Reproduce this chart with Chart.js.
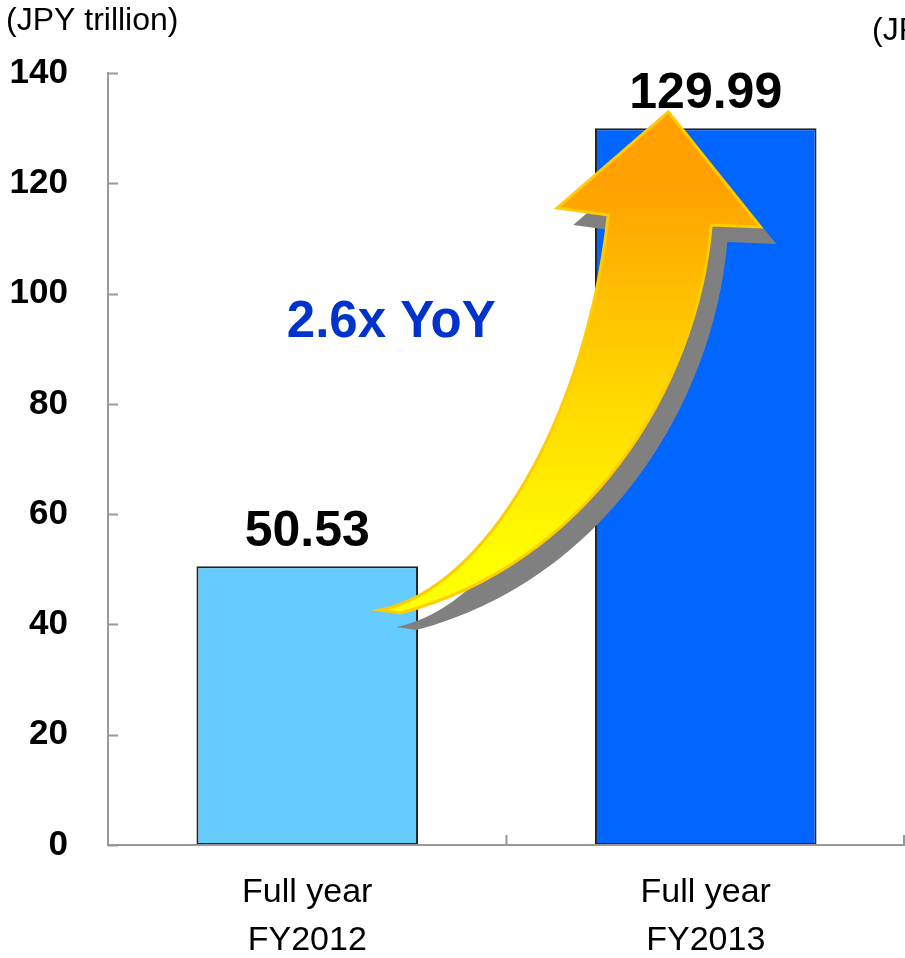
<!DOCTYPE html>
<html>
<head>
<meta charset="utf-8">
<script src="https://cdn.jsdelivr.net/npm/chart.js@4"></script>
<style>
html,body{margin:0;padding:0;background:#fff;}
#wrap{position:relative;width:905px;height:958px;}
canvas{display:block;}
</style>
</head>
<body>
<div id="wrap"><canvas id="c" width="905" height="958"></canvas></div>
<script>
const categories = [['Full year','FY2012'], ['Full year','FY2013']];
const values = [50.53, 129.99];
const valueLabels = ['50.53', '129.99'];
const barColors = ['#66CCFF', '#0066FF'];
const yTicks = [0, 20, 40, 60, 80, 100, 120, 140];
const unitLabel = '(JPY trillion)';
const growthLabel = '2.6x YoY';

const FONT = '"Liberation Sans", Arial, sans-serif';

// Decorative arrow outline, in reference-pixel space (mapped through the scales)
function mapPt(chart, px, py) {
  const xs = chart.scales.x, ys = chart.scales.y;
  return [xs.getPixelForValue((px - 307) / 398.5), ys.getPixelForValue((845 - py) / 5.514)];
}
function arrowPath(ctx, chart, dx, dy) {
  const m = (x, y) => { const p = mapPt(chart, x, y); return [p[0] + dx, p[1] + dy]; };
  ctx.beginPath();
  let p = m(380, 610); ctx.moveTo(p[0], p[1]);
  let a = m(482, 590), b = m(585, 425), c = m(608, 215);
  ctx.bezierCurveTo(a[0], a[1], b[0], b[1], c[0], c[1]);
  p = m(557, 208); ctx.lineTo(p[0], p[1]);
  p = m(668, 112); ctx.lineTo(p[0], p[1]);
  p = m(760, 227); ctx.lineTo(p[0], p[1]);
  p = m(711, 225); ctx.lineTo(p[0], p[1]);
  a = m(697, 390); b = m(585, 565); c = m(400, 613);
  ctx.bezierCurveTo(a[0], a[1], b[0], b[1], c[0], c[1]);
  ctx.closePath();
}

const decoPlugin = {
  id: 'deco',
  afterDatasetsDraw(chart) {
    const ctx = chart.ctx;
    const xs = chart.scales.x, ys = chart.scales.y;
    const area = chart.chartArea;
    // inward tick marks
    ctx.save();
    ctx.strokeStyle = '#999999';
    ctx.lineWidth = 2;
    yTicks.forEach(v => {
      const y = Math.round(ys.getPixelForValue(v)) + 0.5;
      ctx.beginPath(); ctx.moveTo(area.left, y); ctx.lineTo(area.left + 10, y); ctx.stroke();
    });
    const n = categories.length;
    for (let i = 0; i <= n; i++) {
      let x = xs.getPixelForValue(i - 0.5);
      if (i === n) x = Math.min(x, chart.width - 1);
      ctx.beginPath(); ctx.moveTo(x, area.bottom); ctx.lineTo(x, area.bottom - 10); ctx.stroke();
    }
    ctx.restore();

    // arrow shadow + arrow
    ctx.save();
    arrowPath(ctx, chart, 16, 17);
    ctx.fillStyle = '#808080';
    ctx.fill();
    arrowPath(ctx, chart, 0, 0);
    const top = ys.getPixelForValue((845 - 180) / 5.514);
    const bot = ys.getPixelForValue((845 - 560) / 5.514);
    const g = ctx.createLinearGradient(0, top, 0, bot);
    g.addColorStop(0, '#FFA000');
    g.addColorStop(0.4, '#FFC800');
    g.addColorStop(1, '#FFFF00');
    ctx.fillStyle = g;
    ctx.fill();
    ctx.strokeStyle = '#FFCC00';
    ctx.lineWidth = 3;
    ctx.lineJoin = 'miter';
    ctx.stroke();
    ctx.restore();

    // value labels
    ctx.save();
    ctx.font = 'bold 50px ' + FONT;
    ctx.fillStyle = '#000';
    ctx.textAlign = 'center';
    ctx.textBaseline = 'alphabetic';
    chart.getDatasetMeta(0).data.forEach((bar, i) => {
      ctx.fillText(valueLabels[i], bar.x, bar.y - 20);
    });
    ctx.restore();

    // growth annotation
    ctx.save();
    ctx.font = 'bold 51px ' + FONT;
    ctx.fillStyle = '#0033CC';
    ctx.textAlign = 'center';
    ctx.textBaseline = 'alphabetic';
    ctx.fillText(growthLabel, xs.getPixelForValue((391 - 307) / 398.5), ys.getPixelForValue((845 - 337) / 5.514));
    ctx.restore();

    // unit labels
    ctx.save();
    ctx.font = '32px ' + FONT;
    ctx.fillStyle = '#000';
    ctx.textAlign = 'left';
    ctx.textBaseline = 'alphabetic';
    ctx.fillText(unitLabel, 6, 30);
    ctx.fillText(unitLabel, 872, 40);
    ctx.restore();
  }
};

new Chart(document.getElementById('c'), {
  type: 'bar',
  data: {
    labels: categories,
    datasets: [{
      data: values,
      backgroundColor: barColors,
      borderColor: '#222222',
      borderWidth: 2,
      borderSkipped: false,
      categoryPercentage: 1,
      barPercentage: 0.556
    }]
  },
  options: {
    responsive: false,
    animation: false,
    devicePixelRatio: 1,
    layout: { padding: { top: 73, right: 0, bottom: 0, left: 0 } },
    plugins: { legend: { display: false }, tooltip: { enabled: false } },
    scales: {
      x: {
        offset: true,
        grid: { display: false, drawTicks: false },
        border: { display: true, color: '#999999', width: 2, z: 1 },
        ticks: {
          color: '#000',
          font: { family: FONT, size: 34, lineHeight: 1.42 },
          padding: 23,
          maxRotation: 0,
          autoSkip: false
        },
        afterFit(s) { s.height = 113; }
      },
      y: {
        min: 0, max: 140,
        afterBuildTicks(s) { s.ticks = yTicks.map(v => ({ value: v })); },
        grid: { display: false, drawTicks: false },
        border: { display: true, color: '#999999', width: 2 },
        ticks: {
          color: '#000',
          font: { family: FONT, size: 35, weight: 'bold' },
          padding: 40
        },
        afterFit(s) { s.width = 108; }
      }
    }
  },
  plugins: [decoPlugin]
});
</script>
</body>
</html>
